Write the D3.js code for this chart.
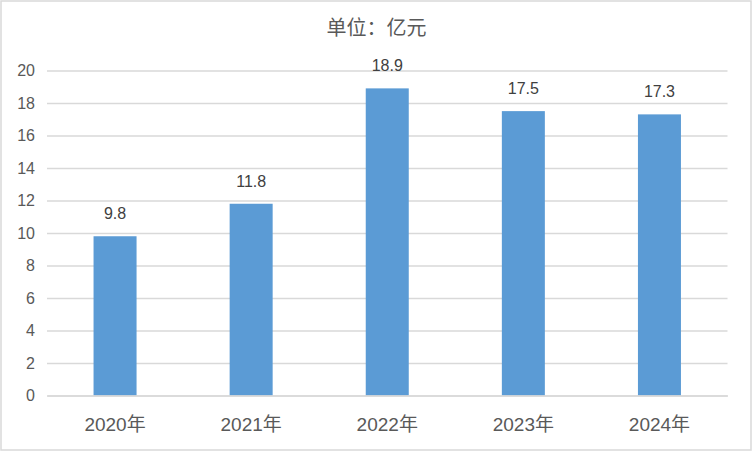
<!DOCTYPE html>
<html><head><meta charset="utf-8">
<script src="https://cdn.jsdelivr.net/npm/d3@7"></script>
<style>body{margin:0;background:#fff}svg{display:block}text{font-family:"Liberation Sans","Noto Sans CJK SC",sans-serif;fill:#595959}</style>
</head><body><svg id="c" width="752" height="452"></svg>
<script>
const categories = ["2020年","2021年","2022年","2023年","2024年"];
const values = [9.8, 11.8, 18.9, 17.5, 17.3];
const yTicks = [0,2,4,6,8,10,12,14,16,18,20];
const title = "单位：亿元";

const svg = d3.select("#c");
svg.append("rect").attr("x",1).attr("y",1).attr("width",750).attr("height",449)
  .attr("fill","#fff").attr("stroke","#d9d9d9").attr("stroke-width",1.5);

const x = d3.scaleBand().domain(categories).range([47,727.5]).paddingInner(0.684).paddingOuter(0.342);
const y = d3.scaleLinear().domain([0,20]).range([395.5,70.5]);

const yAxis = d3.axisLeft(y).tickValues(yTicks).tickSize(-(727.5-47)).tickPadding(12);
const gy = svg.append("g").attr("transform","translate(47,0)").call(yAxis);
gy.select(".domain").remove();
gy.selectAll(".tick line").attr("stroke","#d9d9d9").attr("stroke-width",1.5);
gy.selectAll(".tick text").attr("font-size",16).style("fill","#595959");

svg.append("g").selectAll("rect").data(values).join("rect")
  .attr("x",(d,i)=>x(categories[i])).attr("width",x.bandwidth())
  .attr("y",d=>y(d)).attr("height",d=>y(0)-y(d)).attr("fill","#5b9bd5");

const xAxis = d3.axisBottom(x).tickSize(0).tickPadding(22);
const gx = svg.append("g").attr("transform","translate(0,395.5)").call(xAxis);
gx.select(".domain").attr("stroke","#d9d9d9").attr("stroke-width",1.5);
gx.selectAll(".tick text").attr("font-size",19).style("fill","#595959");

svg.append("g").selectAll("text").data(values).join("text")
  .attr("x",(d,i)=>x(categories[i])+x.bandwidth()/2).attr("y",d=>y(d)-17)
  .attr("text-anchor","middle").attr("font-size",16).style("fill","#404040").text(d=>d.toFixed(1));

svg.append("text").attr("x",376.5).attr("y",35).attr("text-anchor","middle")
  .attr("font-size",20).style("fill","#595959").text(title);
</script></body></html>
